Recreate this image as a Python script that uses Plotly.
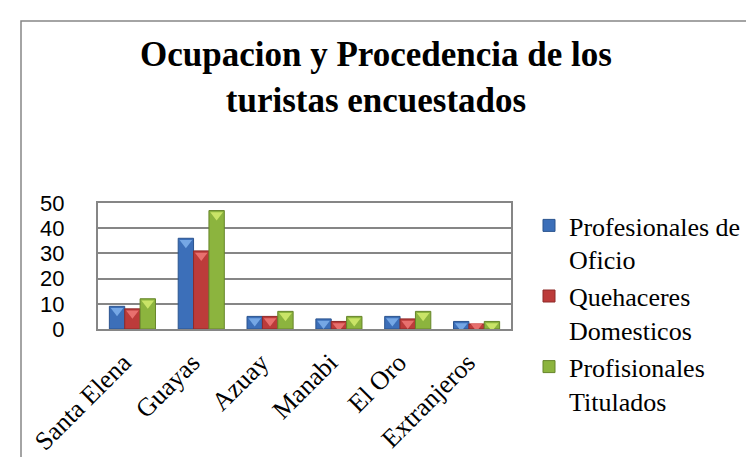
import plotly.graph_objects as go

categories = ["Santa Elena", "Guayas", "Azuay", "Manabi", "El Oro", "Extranjeros"]
series_names = ["Profesionales de<br>Oficio", "Quehaceres<br>Domesticos", "Profisionales<br>Titulados"]
oficio = [9, 36, 5, 4, 5, 3]
domesticos = [8, 31, 5, 3, 4, 2]
titulados = [12, 47, 7, 5, 7, 3]
y_ticks = [0, 10, 20, 30, 40, 50]

colors = ["#3C6FB9", "#BC3B3A", "#8CB43E"]
light = ["#7FB2EC", "#F07A78", "#D4EC6E"]
edges = ["#2B548F", "#8E2A29", "#66852A"]

W, H = 754, 457
L, R, T, B = 90, 251, 195, 136
PW, PH = W - L - R, H - T - B
YMAX = 50

def px_x(p):
    return (p - L) / PW

def px_y(p):
    return (H - B - p) / PH

fig = go.Figure()
for name, vals, c, e in zip(series_names, [oficio, domesticos, titulados], colors, edges):
    fig.add_trace(go.Bar(x=categories, y=vals, name=name, offsetgroup=name,
                         marker=dict(color=c, line=dict(color=e, width=1))))

# bevel-like lighter triangles at the top of each bar
tri_shift = 4.5 / PH * YMAX
for name, vals, lc in zip(series_names, [oficio, domesticos, titulados], light):
    fig.add_trace(go.Scatter(x=categories, y=[v - tri_shift if v - tri_shift > 0.6 else v * 0.6 for v in vals],
                             mode="markers", offsetgroup=name, showlegend=False, hoverinfo="skip",
                             marker=dict(symbol="triangle-down", size=11, color=lc, opacity=0.85,
                                         line=dict(width=0))))

fig.update_layout(
    width=W, height=H,
    margin=dict(l=L, r=R, t=T, b=B, autoexpand=False),
    paper_bgcolor="white", plot_bgcolor="white",
    barmode="group", bargap=0.33, bargroupgap=0.0,
    scattermode="group", scattergap=0.33,
    title=dict(text="Ocupacion y Procedencia de los<br>turistas encuestados",
               font=dict(family="Liberation Serif", size=35, color="black", weight="bold"),
               x=368 / W, xanchor="center", xref="container",
               y=1 - 58 / H, yanchor="top", yref="container"),
    legend=dict(x=px_x(521), xanchor="left", y=px_y(194), yanchor="top",
                font=dict(family="Liberation Serif", size=26, color="black"),
                valign="top", itemwidth=30, bgcolor="rgba(0,0,0,0)",
                tracegroupgap=0, maxheight=400),
    showlegend=True,
)
fig.update_xaxes(type="category", showline=True, mirror=True, linecolor="#868686", linewidth=2,
                 tickangle=-45, tickfont=dict(family="Liberation Serif", size=26, color="black"),
                 ticks="", showgrid=False, ticklabelstandoff=6, ticklabelshift=-9, automargin=False)
fig.update_yaxes(range=[0, YMAX], tickvals=y_ticks, showline=True, mirror=True,
                 linecolor="#868686", linewidth=2, showgrid=True, gridcolor="#868686", gridwidth=1.5,
                 tickfont=dict(family="Liberation Sans", size=22, color="black"),
                 ticks="", ticklabelstandoff=27, zeroline=False, automargin=False)

# outer chart frame (top & left visible)
fig.add_shape(type="rect", xref="paper", yref="paper",
              x0=px_x(13), x1=px_x(W + 40), y0=px_y(H + 40), y1=px_y(13),
              line=dict(color="#868686", width=1.5), layer="below")

fig.write_html("out.html")
